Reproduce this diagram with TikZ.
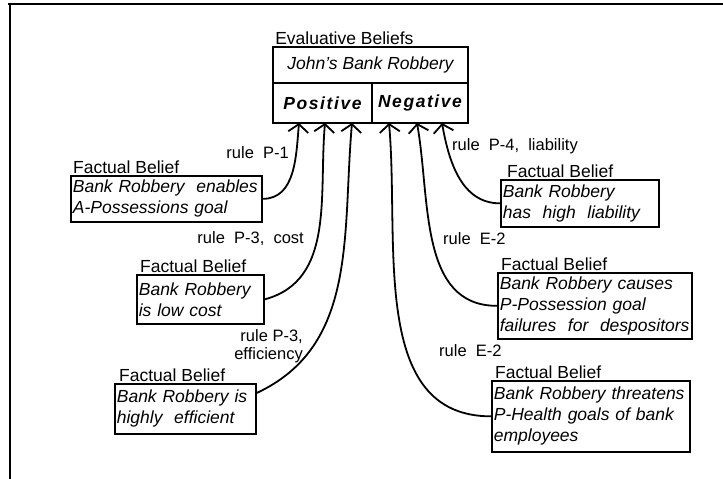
\documentclass[tikz,border=0pt]{standalone}
\usepackage{fontspec}
\setmainfont{Liberation Sans}
\usetikzlibrary{arrows.meta,positioning}

\begin{document}
\begin{tikzpicture}[
  x=1pt,y=1pt,
  >={Straight Barb[length=8pt,width=20pt]},
  font=\fontsize{17.5}{21}\selectfont,
  cell/.style={draw, line width=1.8pt, inner sep=0pt, font=\fontsize{17.5}{21}\selectfont\itshape},
  sign/.style={cell, font=\fontsize{17.5}{21}\selectfont\bfseries\itshape\addfontfeatures{LetterSpace=9}},
  fact/.style={draw, line width=1.7pt, anchor=north west, align=left, inner xsep=2pt, inner ysep=0pt, font=\fontsize{17.5}{21}\selectfont\itshape},
  head/.style={inner sep=1pt, font=\fontsize{17.5}{21}\selectfont},
  rulelabel/.style={inner sep=1pt, font=\fontsize{16.5}{18}\selectfont},
  link/.style={->, line width=1.8pt}
]
\useasboundingbox (0,0) rectangle (723,479);

% Frame
\draw[line width=2pt] (8,475) -- (723,475);
\draw[line width=2.5pt] (10,476) -- (10,0);

% Evaluative beliefs
\node[cell, minimum width=195pt, minimum height=36pt] (title) at (370.5,414) {John's Bank Robbery};
\node[sign, minimum width=99pt, minimum height=40pt] (pos) at (322.5,376) {Positive};
\node[sign, minimum width=96pt, minimum height=40pt] (neg) at (420,376) {Negative};
\node[head, above right=0pt and 2pt of title.north west] (evhead) {Evaluative Beliefs};

\coordinate (p1) at (299,356);
\coordinate (p2) at (325,356);
\coordinate (p3) at (352,356);
\coordinate (n1) at (389,356);
\coordinate (n2) at (417,356);
\coordinate (n3) at (442,356);

% Factual beliefs, positive side
\node[fact, text width=187pt, minimum height=46pt] (f1) at (70,304) {Bank Robbery \ enables\\A-Possessions goal};
\node[fact, text width=123pt, minimum height=49pt] (f2) at (136,205) {Bank Robbery\\is low cost};
\node[fact, text width=137pt, minimum height=50pt] (f3) at (114,96) {Bank Robbery is\\highly \ efficient};
\node[head, above right=0pt and 2pt of f1.north west] (h1) {Factual Belief};
\node[head, above right=0pt and 3pt of f2.north west] (h2) {Factual Belief};
\node[head, above right=0pt and 4pt of f3.north west] (h3) {Factual Belief};

% Factual beliefs, negative side
\node[fact, text width=154pt, minimum height=47pt] (f4) at (500,300) {Bank Robbery\\has \ high \ liability};
\node[fact, text width=190pt, minimum height=66pt] (f5) at (497,207) {Bank Robbery causes\\P-Possession goal\\failures \ for \ despositors};
\node[fact, text width=194pt, minimum height=71pt] (f6) at (491,99) {Bank Robbery threatens\\P-Health goals of bank\\employees};
\node[head, above right=0pt and 6pt of f4.north west] (h4) {Factual Belief};
\node[head, above right=0pt and 3pt of f5.north west] (h5) {Factual Belief};
\node[head, above right=0pt and 3pt of f6.north west] (h6) {Factual Belief};

% Rules
\node[rulelabel, anchor=east] (r1) at (290,326) {rule \ P-1};
\node[rulelabel, anchor=east] (r2) at (305,240) {rule \ P-3, \ cost};
\node[rulelabel, anchor=east, align=right] (r3) at (304,133) {rule P-3,\\efficiency};
\node[rulelabel, anchor=west] (r4) at (451,333) {rule \ P-4, \ liability};
\node[rulelabel, anchor=west] (r5) at (442,240) {rule \ E-2};
\node[rulelabel, anchor=west] (r6) at (438,128) {rule \ E-2};

\draw[link] (f1.east) to[out=0,in=-95] (p1);
\draw[link] (f2.east) to[out=15,in=-95] (p2);
\draw[link] ([yshift=-10pt]f3.north east) to[out=25,in=-95] (p3);
\draw[link] (f4.west) to[out=180,in=-80] (n3);
\draw[link] (f5.west) to[out=180,in=-80] (n2);
\draw[link] (f6.west) to[out=180,in=-85] (n1);

\end{tikzpicture}
\end{document}
